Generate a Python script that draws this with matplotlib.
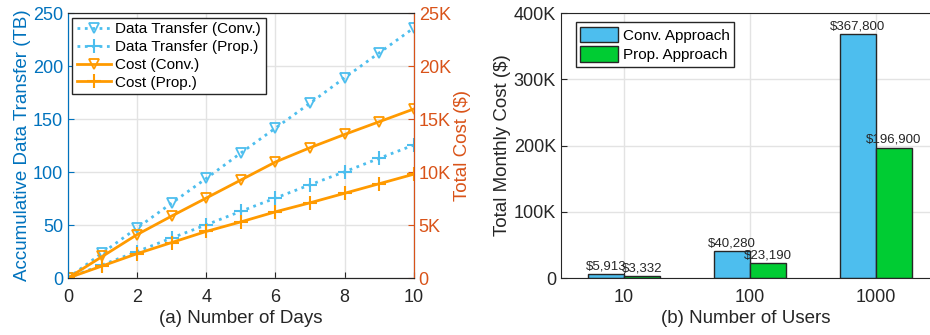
import matplotlib.pyplot as plt
import numpy as np

plt.rcParams['font.family'] = ['Liberation Sans', 'DejaVu Sans']

# (a) data transfer and cost over days
days = [0, 1, 2, 3, 4, 5, 6, 7, 8, 9, 10]
transfer_conv = [0, 23.8, 47.2, 70.7, 94, 118, 141.5, 165, 189, 212.5, 236]
transfer_prop = [0, 12.5, 25, 37.8, 50.2, 63, 75.5, 88, 100.3, 113, 125.5]
cost_conv = [0, 2.05, 4.1, 5.85, 7.55, 9.25, 10.95, 12.3, 13.55, 14.75, 15.95]   # K$
cost_prop = [0, 1.15, 2.3, 3.35, 4.4, 5.3, 6.25, 7.1, 8.0, 8.9, 9.8]            # K$

# (b) monthly cost by users
users = ['10', '100', '1000']
monthly_conv = [5913, 40280, 367800]
monthly_prop = [3332, 23190, 196900]

blue_axis = '#0072BD'
orange_axis = '#D95319'
light_blue = '#4DBEEE'
orange = '#FF9A00'
green = '#00CC33'
grid_c = '#E3E3E3'
dark = '#262626'

fig = plt.figure(figsize=(9.3, 3.35), dpi=100)

# ---- left panel
ax = fig.add_axes([0.073, 0.170, 0.372, 0.791])
ax2 = ax.twinx()
l1, = ax.plot(days, transfer_conv, ':', color=light_blue, lw=2, marker='v', ms=7.5,
              mfc='none', mew=1.3, label='Data Transfer (Conv.)')
l2, = ax.plot(days, transfer_prop, ':', color=light_blue, lw=2, marker='+', ms=10,
              mew=1.5, label='Data Transfer (Prop.)')
l3, = ax2.plot(days, cost_conv, '-', color=orange, lw=2, marker='v', ms=7.5,
               mfc='none', mew=1.3, label='Cost (Conv.)')
l4, = ax2.plot(days, cost_prop, '-', color=orange, lw=2, marker='+', ms=10,
               mew=1.5, label='Cost (Prop.)')
ax.set_xlim(0, 10)
ax.set_ylim(0, 250)
ax2.set_ylim(0, 25)
ax.set_xticks(range(0, 11, 2))
ax.set_yticks(range(0, 251, 50))
ax2.set_yticks(range(0, 26, 5))
ax2.set_yticklabels(['0', '5K', '10K', '15K', '20K', '25K'])
ax.grid(True, color=grid_c, lw=1)
ax.set_axisbelow(True)
ax.tick_params(axis='both', direction='in', labelsize=13, length=4)
ax.tick_params(axis='x', colors=dark, pad=8)
ax.tick_params(axis='y', colors=blue_axis)
ax2.tick_params(axis='y', direction='in', labelsize=13, colors=orange_axis, length=4)
ax.spines['left'].set_color(blue_axis)
ax2.spines['left'].set_color(blue_axis)
ax2.spines['right'].set_color(orange_axis)
for a in (ax, ax2):
    a.spines['top'].set_color(dark)
    a.spines['bottom'].set_color(dark)
ax.set_xlabel('(a) Number of Days', fontsize=13.5, color=dark, labelpad=3)
ax.set_ylabel('Accumulative Data Transfer (TB)', fontsize=13.5, color=blue_axis, labelpad=1)
ax2.set_ylabel('Total Cost (\\$)', fontsize=13.5, color=orange_axis, labelpad=2)
leg = ax.legend(handles=[l1, l2, l3, l4], loc='upper left', fontsize=11,
                fancybox=False, edgecolor=dark, framealpha=1,
                handlelength=2.2, borderaxespad=0.3, labelspacing=0.25, borderpad=0.3,
                handletextpad=0.3)
leg.get_frame().set_linewidth(1)

# ---- right panel
bx = fig.add_axes([0.603, 0.170, 0.397, 0.791])
x = np.arange(1, len(users) + 1)
w = 0.285
b1 = bx.bar(x - w / 2, monthly_conv, w, color=light_blue, edgecolor=dark,
            lw=1, label='Conv. Approach')
b2 = bx.bar(x + w / 2, monthly_prop, w, color=green, edgecolor=dark,
            lw=1, label='Prop. Approach')
for bars, vals in ((b1, monthly_conv), (b2, monthly_prop)):
    for r, v in zip(bars, vals):
        bx.text(r.get_x() + r.get_width() / 2, v + 2500, '\\$' + f'{v:,}',
                ha='center', va='bottom', fontsize=9.5, color=dark)
bx.set_xlim(0.5, 3.43)
bx.set_ylim(0, 400000)
bx.set_xticks(x)
bx.set_xticklabels(users)
bx.set_yticks(range(0, 400001, 100000))
bx.set_yticklabels(['0', '100K', '200K', '300K', '400K'])
bx.grid(True, color=grid_c, lw=1)
bx.set_axisbelow(True)
bx.tick_params(axis='both', direction='in', labelsize=13, length=4, colors=dark)
bx.tick_params(axis='x', pad=8)
bx.spines['right'].set_visible(False)
for s in ('top', 'bottom', 'left'):
    bx.spines[s].set_color(dark)
bx.set_xlabel('(b) Number of Users', fontsize=13.5, color=dark, labelpad=3)
bx.set_ylabel('Total Monthly Cost (\\$)', fontsize=13.5, color=dark, labelpad=2)
leg2 = bx.legend(loc='upper left', fontsize=11, fancybox=False, edgecolor=dark,
                 framealpha=1, handlelength=2.5, handleheight=1.2,
                 bbox_to_anchor=(0.04, 0.966), borderaxespad=0, labelspacing=0.25,
                 borderpad=0.3, handletextpad=0.3)
leg2.get_frame().set_linewidth(1)

fig.savefig('out.png', dpi=100)
